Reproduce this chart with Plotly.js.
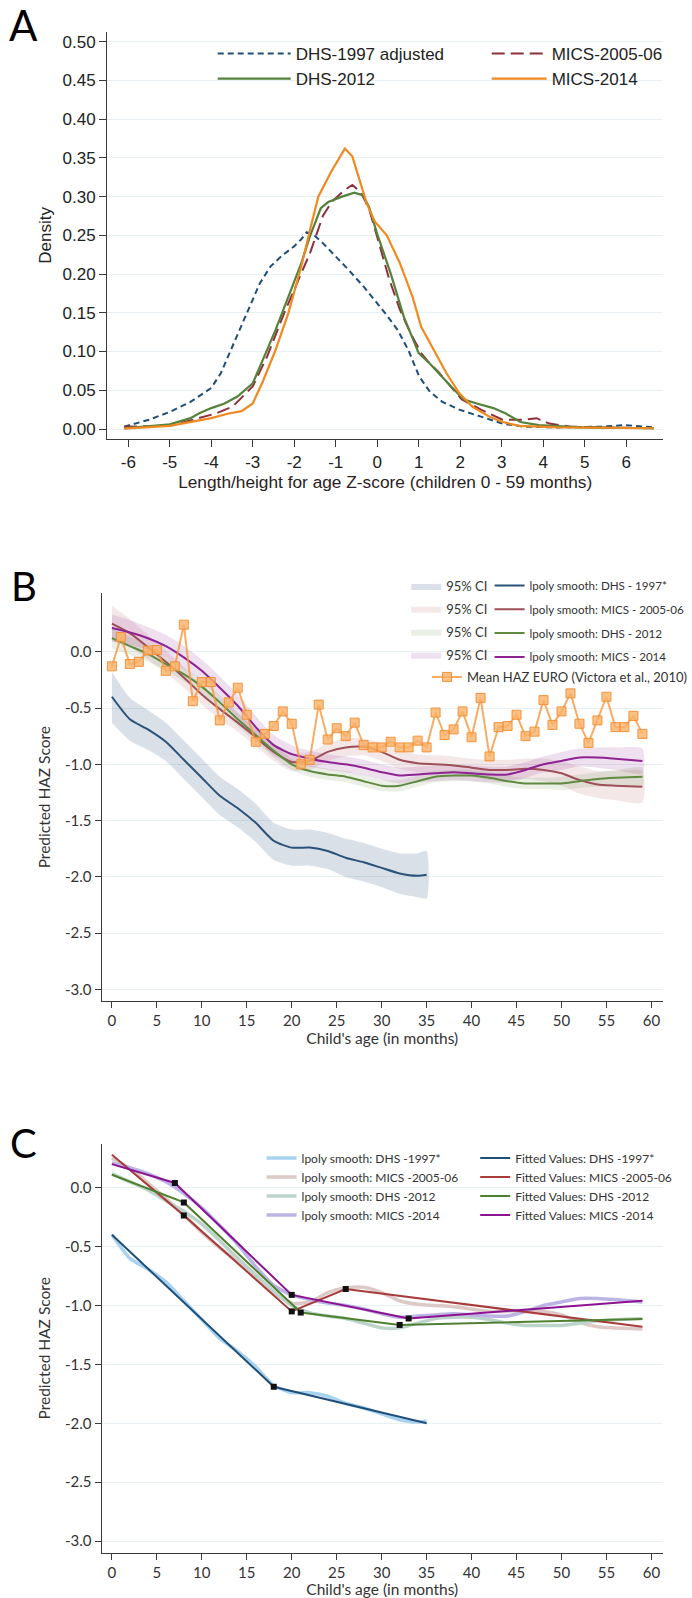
<!DOCTYPE html>
<html><head><meta charset="utf-8">
<script src="https://cdn.plot.ly/plotly-3.0.1.min.js"></script>
<style>html,body{margin:0;padding:0;background:#fff}#chart{width:692px;height:1598px}</style>
</head><body><div id="chart"></div>
<script>
// ---------- Panel A : kernel densities of HAZ ----------
const zDHS1997 = [-6.1,-5.5,-5.0,-4.5,-4.0,-3.77,-3.56,-3.35,-3.09,-2.83,-2.57,-2.31,-2.0,-1.83,-1.7,-1.52,-1.31,-1.0,-0.7,-0.33,0.0,0.23,0.49,0.75,1.01,1.27,1.57,1.98,2.5,3.02,3.53,4.35,5.38,6.0,6.67];
const dDHS1997 = [0.003,0.012,0.022,0.035,0.053,0.072,0.098,0.124,0.158,0.188,0.21,0.223,0.236,0.245,0.254,0.25,0.24,0.223,0.206,0.184,0.162,0.147,0.128,0.102,0.068,0.048,0.035,0.025,0.016,0.007,0.003,0.002,0.003,0.005,0.002];
const zMICS2005 = [-6.1,-5.0,-4.3,-3.89,-3.48,-3.0,-2.65,-2.24,-1.83,-1.62,-1.31,-1.1,-0.8,-0.6,-0.4,-0.2,0.0,0.28,0.54,0.8,1.06,1.26,1.47,1.78,2.04,2.5,3.02,3.53,3.84,4.15,4.66,5.38,6.67];
const dMICS2005 = [0.003,0.004,0.014,0.02,0.029,0.055,0.094,0.15,0.201,0.227,0.275,0.293,0.308,0.315,0.306,0.285,0.248,0.195,0.155,0.124,0.098,0.085,0.074,0.055,0.038,0.025,0.012,0.012,0.014,0.007,0.003,0.002,0.001];
const zDHS2012 = [-6.1,-5.0,-4.5,-4.3,-4.0,-3.68,-3.37,-3.0,-2.76,-2.45,-2.14,-1.83,-1.62,-1.36,-1.18,-0.85,-0.55,-0.35,-0.2,0.0,0.33,0.64,1.0,1.26,1.78,2.09,2.4,2.8,3.1,3.45,3.9,4.87,6.67];
const dDHS2012 = [0.001,0.006,0.014,0.02,0.027,0.033,0.042,0.059,0.089,0.128,0.171,0.214,0.249,0.285,0.293,0.30,0.305,0.302,0.287,0.252,0.2,0.145,0.098,0.085,0.055,0.038,0.033,0.027,0.02,0.009,0.005,0.002,0.001];
const zMICS2014 = [-6.1,-5.0,-4.0,-3.58,-3.27,-3.0,-2.76,-2.45,-2.14,-1.83,-1.62,-1.42,-1.1,-0.78,-0.6,-0.43,-0.25,-0.06,0.23,0.54,0.85,1.06,1.36,1.67,1.98,2.29,2.7,3.02,3.43,4.35,6.67];
const dMICS2014 = [0.0005,0.004,0.014,0.02,0.023,0.033,0.061,0.102,0.15,0.21,0.257,0.3,0.333,0.362,0.352,0.322,0.291,0.268,0.25,0.215,0.171,0.132,0.102,0.072,0.046,0.029,0.016,0.009,0.004,0.002,0.001];
const xTickValsA = [-6,-5,-4,-3,-2,-1,0,1,2,3,4,5,6];
const xTickTextA = ['-6','-5','-4','-3','-2','-1','0','1','2','3','4','5','6'];
const yTickValsA = [0,0.05,0.10,0.15,0.20,0.25,0.30,0.35,0.40,0.45,0.50];
const yTickTextA = ['0.00','0.05','0.10','0.15','0.20','0.25','0.30','0.35','0.40','0.45','0.50'];

// ---------- Panel B / C : lpoly smooths (age in months) ----------
const monthsFull = [0,2,4,6,8,10,12,14,16,18,20,22,24,26,28,30,32,34,36,38,40,42,44,46,48,50,52,54,56,59];
const months1997 = [0,2,4,6,8,10,12,14,16,18,20,22,24,26,28,30,32,34,35];
const haz1997 = [-0.40,-0.60,-0.69,-0.80,-0.96,-1.12,-1.28,-1.39,-1.52,-1.68,-1.74,-1.74,-1.77,-1.83,-1.87,-1.92,-1.97,-1.99,-1.98];
const hi1997  = [-0.18,-0.41,-0.52,-0.63,-0.79,-0.95,-1.11,-1.22,-1.35,-1.52,-1.58,-1.58,-1.61,-1.66,-1.70,-1.75,-1.79,-1.79,-1.77];
const lo1997  = [-0.63,-0.79,-0.87,-0.97,-1.13,-1.29,-1.45,-1.56,-1.69,-1.85,-1.90,-1.90,-1.93,-2.0,-2.04,-2.09,-2.15,-2.18,-2.19];
const haz2005 = [0.25,0.165,0.04,-0.09,-0.23,-0.38,-0.51,-0.63,-0.76,-0.89,-0.98,-0.97,-0.89,-0.85,-0.845,-0.89,-0.96,-0.99,-1.0,-1.01,-1.03,-1.05,-1.05,-1.04,-1.05,-1.08,-1.14,-1.18,-1.19,-1.2];
const hi2005  = [0.41,0.29,0.15,0.01,-0.14,-0.29,-0.42,-0.55,-0.68,-0.81,-0.9,-0.89,-0.81,-0.77,-0.77,-0.81,-0.88,-0.91,-0.92,-0.93,-0.95,-0.96,-0.96,-0.95,-0.95,-0.97,-1.02,-1.06,-1.06,-1.06];
const lo2005  = [0.09,0.04,-0.07,-0.19,-0.32,-0.47,-0.6,-0.71,-0.84,-0.97,-1.06,-1.05,-0.97,-0.93,-0.92,-0.97,-1.04,-1.07,-1.08,-1.09,-1.11,-1.14,-1.14,-1.13,-1.15,-1.19,-1.26,-1.3,-1.32,-1.34];
const haz2012 = [0.12,0.05,-0.02,-0.11,-0.2,-0.31,-0.45,-0.6,-0.74,-0.88,-1.0,-1.06,-1.09,-1.11,-1.15,-1.19,-1.19,-1.15,-1.11,-1.1,-1.1,-1.12,-1.15,-1.17,-1.17,-1.17,-1.15,-1.13,-1.12,-1.11];
const hi2012  = [0.21,0.13,0.05,-0.05,-0.14,-0.25,-0.39,-0.54,-0.68,-0.82,-0.95,-1.01,-1.04,-1.06,-1.1,-1.14,-1.14,-1.1,-1.06,-1.05,-1.05,-1.07,-1.1,-1.12,-1.12,-1.11,-1.09,-1.07,-1.05,-1.03];
const lo2012  = [0.03,-0.03,-0.09,-0.17,-0.26,-0.37,-0.51,-0.66,-0.8,-0.94,-1.05,-1.11,-1.14,-1.16,-1.2,-1.24,-1.24,-1.2,-1.16,-1.15,-1.15,-1.17,-1.2,-1.22,-1.22,-1.23,-1.21,-1.2,-1.19,-1.19];
const haz2014 = [0.21,0.17,0.12,0.05,-0.05,-0.17,-0.32,-0.48,-0.67,-0.83,-0.91,-0.95,-0.98,-1.0,-1.03,-1.07,-1.1,-1.09,-1.08,-1.07,-1.08,-1.09,-1.09,-1.05,-1.0,-0.97,-0.94,-0.94,-0.95,-0.97];
const hi2014  = [0.33,0.28,0.22,0.15,0.05,-0.07,-0.22,-0.38,-0.57,-0.74,-0.83,-0.88,-0.91,-0.93,-0.96,-1.0,-1.03,-1.02,-1.01,-1.0,-1.01,-1.02,-1.02,-0.98,-0.93,-0.89,-0.86,-0.85,-0.85,-0.86];
const lo2014  = [0.09,0.06,0.02,-0.05,-0.15,-0.27,-0.42,-0.58,-0.77,-0.92,-0.99,-1.02,-1.05,-1.07,-1.1,-1.14,-1.17,-1.16,-1.15,-1.14,-1.15,-1.16,-1.16,-1.12,-1.07,-1.05,-1.02,-1.03,-1.05,-1.08];
const euroMonths = [0,1,2,3,4,5,6,7,8,9,10,11,12,13,14,15,16,17,18,19,20,21,22,23,24,25,26,27,28,29,30,31,32,33,34,35,36,37,38,39,40,41,42,43,44,45,46,47,48,49,50,51,52,53,54,55,56,57,58,59];
const euroHAZ = [-0.13,0.13,-0.11,-0.09,0.01,0.015,-0.17,-0.13,0.24,-0.44,
  -0.27,-0.27,-0.61,-0.45,-0.32,-0.56,-0.80,-0.73,-0.66,-0.53,
  -0.64,-1.0,-0.96,-0.47,-0.78,-0.68,-0.75,-0.63,-0.83,-0.85,
  -0.85,-0.80,-0.85,-0.85,-0.79,-0.85,-0.54,-0.74,-0.69,-0.53,
  -0.76,-0.41,-0.93,-0.67,-0.66,-0.56,-0.75,-0.71,-0.43,-0.65,
  -0.53,-0.37,-0.64,-0.81,-0.61,-0.40,-0.67,-0.67,-0.57,-0.73];
// Panel C : piecewise fitted values (first/last = ends, inner = knots)
const fitM1997 = [0,18,35],        fitV1997 = [-0.40,-1.69,-2.0];
const fitM2005 = [0,8,20,26,59],   fitV2005 = [0.28,-0.235,-1.05,-0.86,-1.18];
const fitM2012 = [0,8,21,32,59],   fitV2012 = [0.11,-0.125,-1.06,-1.165,-1.115];
const fitM2014 = [0,7,20,33,59],   fitV2014 = [0.20,0.04,-0.91,-1.11,-0.96];
const ageTickVals = [0,5,10,15,20,25,30,35,40,45,50,55,60];
const ageTickText = ['0','5','10','15','20','25','30','35','40','45','50','55','60'];
const hazTickVals = [0,-0.5,-1,-1.5,-2,-2.5,-3];
const hazTickText = ['0.0','-0.5','-1.0','-1.5','-2.0','-2.5','-3.0'];

// ---------- layout helpers ----------
const W = 692, H = 1598;
const px = v => v / W;
const py = v => 1 - v / H;
const FA = 'Liberation Sans, Arial, sans-serif';
const FB = 'Lato, Open Sans, sans-serif';
const GRID = '#e7f0f3';
const AX = '#3a3a3a';

function band(m, hi, lo, color, xa, ya, grp) {
  return {x: m.concat(m.slice().reverse()), y: hi.concat(lo.slice().reverse()),
    type: 'scatter', mode: 'lines', fill: 'toself', fillcolor: color,
    line: {width: 0, shape: 'spline', smoothing: 0.6}, name: '95% CI',
    xaxis: xa, yaxis: ya, legend: 'legend3', legendgroup: grp, hoverinfo: 'skip'};
}
function line(x, y, name, color, width, xa, ya, leg, extra) {
  return Object.assign({x: x, y: y, type: 'scatter', mode: 'lines', name: name,
    line: {color: color, width: width}, xaxis: xa, yaxis: ya, legend: leg}, extra || {});
}
function knots(m, v, xa, ya) {
  return {x: m.slice(1, -1), y: v.slice(1, -1), type: 'scatter', mode: 'markers',
    marker: {symbol: 'square', size: 6, color: '#111'}, showlegend: false, xaxis: xa, yaxis: ya};
}
const SP = {shape: 'spline', smoothing: 0.6};

const traces = [
  // Panel A
  line(zDHS1997, dDHS1997, 'DHS-1997 adjusted', '#1f4e79', 2, 'x', 'y', 'legend', {line: {color: '#1f4e79', width: 2, dash: '6px,4px'}}),
  line(zMICS2005, dMICS2005, 'MICS-2005-06', '#8e2f3c', 2, 'x', 'y', 'legend2', {line: {color: '#8e2f3c', width: 2, dash: '13px,6px'}}),
  line(zDHS2012, dDHS2012, 'DHS-2012', '#55823a', 2.2, 'x', 'y', 'legend'),
  line(zMICS2014, dMICS2014, 'MICS-2014', '#f0891f', 2.2, 'x', 'y', 'legend2'),
  // Panel B bands
  band(months1997, hi1997, lo1997, 'rgba(44,82,120,0.18)', 'x2', 'y2', 'b1'),
  band(monthsFull, hi2005, lo2005, 'rgba(175,85,95,0.14)', 'x2', 'y2', 'b2'),
  band(monthsFull, hi2012, lo2012, 'rgba(95,140,60,0.13)', 'x2', 'y2', 'b3'),
  band(monthsFull, hi2014, lo2014, 'rgba(150,50,150,0.15)', 'x2', 'y2', 'b4'),
  // Panel B lines
  line(months1997, haz1997, 'lpoly smooth: DHS - 1997*', '#2b5278', 2, 'x2', 'y2', 'legend4', {line: Object.assign({color: '#2b5278', width: 2}, SP), legendgroup: 'l1'}),
  line(monthsFull, haz2005, 'lpoly smooth: MICS - 2005-06', '#9e4f58', 2, 'x2', 'y2', 'legend4', {line: Object.assign({color: '#9e4f58', width: 2}, SP), legendgroup: 'l2'}),
  line(monthsFull, haz2012, 'lpoly smooth: DHS - 2012', '#5f8a40', 2, 'x2', 'y2', 'legend4', {line: Object.assign({color: '#5f8a40', width: 2}, SP), legendgroup: 'l3'}),
  line(monthsFull, haz2014, 'lpoly smooth: MICS - 2014', '#8e2392', 2, 'x2', 'y2', 'legend4', {line: Object.assign({color: '#8e2392', width: 2}, SP), legendgroup: 'l4'}),
  {x: euroMonths, y: euroHAZ, type: 'scatter', mode: 'lines+markers', name: 'Mean HAZ EURO (Victora et al., 2010)',
   line: {color: 'rgba(247,150,60,0.8)', width: 2},
   marker: {symbol: 'square', size: 9, color: 'rgba(250,178,105,0.8)', line: {color: 'rgba(244,140,45,0.9)', width: 1}},
   xaxis: 'x2', yaxis: 'y2', legend: 'legend5'},
  // Panel C light lpoly
  line(months1997, haz1997, 'lpoly smooth: DHS -1997*', '#a8d3f0', 3.5, 'x3', 'y3', 'legend6', {line: Object.assign({color: '#a8d3f0', width: 3.5}, SP)}),
  line(monthsFull, haz2005, 'lpoly smooth: MICS -2005-06', '#ddc9c6', 3.5, 'x3', 'y3', 'legend6', {line: Object.assign({color: '#ddc9c6', width: 3.5}, SP)}),
  line(monthsFull, haz2012, 'lpoly smooth: DHS -2012', '#bdd4cb', 3.5, 'x3', 'y3', 'legend6', {line: Object.assign({color: '#bdd4cb', width: 3.5}, SP)}),
  line(monthsFull, haz2014, 'lpoly smooth: MICS -2014', '#bcb4e4', 3.5, 'x3', 'y3', 'legend6', {line: Object.assign({color: '#bcb4e4', width: 3.5}, SP)}),
  // Panel C fitted
  line(fitM1997, fitV1997, 'Fitted Values: DHS -1997*', '#1f4e79', 2, 'x3', 'y3', 'legend7'),
  line(fitM2005, fitV2005, 'Fitted Values: MICS -2005-06', '#a83b3b', 2, 'x3', 'y3', 'legend7'),
  line(fitM2012, fitV2012, 'Fitted Values: DHS -2012', '#4f8030', 2, 'x3', 'y3', 'legend7'),
  line(fitM2014, fitV2014, 'Fitted Values: MICS -2014', '#8c1390', 2, 'x3', 'y3', 'legend7'),
  knots(fitM1997, fitV1997, 'x3', 'y3'),
  knots(fitM2005, fitV2005, 'x3', 'y3'),
  knots(fitM2012, fitV2012, 'x3', 'y3'),
  knots(fitM2014, fitV2014, 'x3', 'y3')
];

function xAxisAge(yref) {
  return {domain: [px(106), 1], range: [(106 - 116.8) / 9.385, (692 - 116.8) / 9.385], anchor: yref,
    tickvals: ageTickVals, ticktext: ageTickText, ticks: 'outside', ticklen: 6, tickcolor: AX,
    showline: true, linecolor: AX, linewidth: 1, showgrid: false, zeroline: false,
    tickfont: {family: FB, size: 15, color: '#333'},
    title: {text: "Child's age (in months)", font: {family: FB, size: 15.5, color: '#333'}, standoff: 0}};
}
function yAxisHAZ(xref, dom, rng) {
  return {domain: dom, range: rng, anchor: xref, tickvals: hazTickVals, ticktext: hazTickText,
    ticks: 'outside', ticklen: 6, tickcolor: AX, showline: true, linecolor: AX, linewidth: 1,
    showgrid: true, gridcolor: GRID, gridwidth: 1, zeroline: false,
    tickfont: {family: FB, size: 15, color: '#333'},
    title: {text: 'Predicted HAZ Score', font: {family: FB, size: 15.5, color: '#333'}, standoff: 10}};
}
function leg(x, ytop, size, extra) {
  return Object.assign({x: px(x), y: py(ytop), xanchor: 'left', yanchor: 'top', bgcolor: 'rgba(0,0,0,0)',
    borderwidth: 0, font: {family: FB, size: size, color: '#333'}, tracegroupgap: 0}, extra || {});
}

const A0 = 393.7, AU = 43.3;   // pixel of z=0 and pixels per unit in panel A
const layout = {
  width: W, height: H, margin: {l: 0, r: 0, t: 0, b: 0},
  paper_bgcolor: '#fff', plot_bgcolor: '#fff', showlegend: true, hovermode: false,
  xaxis: {domain: [px(112), 1], range: [(112 - A0) / AU, (692 - A0) / AU], anchor: 'y',
    tickvals: xTickValsA, ticktext: xTickTextA, ticks: 'outside', ticklen: 7, tickcolor: AX,
    showline: true, linecolor: AX, linewidth: 1.3, showgrid: false, zeroline: false,
    tickfont: {family: FA, size: 17, color: '#222'},
    title: {text: 'Length/height for age Z-score (children 0 - 59 months)', font: {family: FA, size: 17.3, color: '#2a2222'}, standoff: 2}},
  yaxis: {domain: [py(439), py(31.7)], range: [(429 - 439) / 774.6, (429 - 31.7) / 774.6], anchor: 'x',
    tickvals: yTickValsA, ticktext: yTickTextA, ticks: 'outside', ticklen: 7, tickcolor: AX,
    showline: true, linecolor: AX, linewidth: 1.3, showgrid: true, gridcolor: GRID, zeroline: false,
    tickfont: {family: FA, size: 17, color: '#222'},
    title: {text: 'Density', font: {family: FA, size: 17, color: '#222'}, standoff: 6}},
  xaxis2: xAxisAge('y2'),
  yaxis2: yAxisHAZ('x2', [py(1001.3), py(593)], [(651.7 - 1001.3) / 112.6, (651.7 - 593) / 112.6]),
  xaxis3: xAxisAge('y3'),
  yaxis3: yAxisHAZ('x3', [py(1552.7), py(1144)], [(1187.7 - 1552.7) / 117.8, (1187.7 - 1144) / 117.8]),
  legend:  leg(222, 36, 17, {font: {family: FA, size: 17, color: '#222'}, itemwidth: 73}),
  legend2: leg(508, 36, 17, {font: {family: FA, size: 17, color: '#222'}, itemwidth: 55}),
  legend3: leg(424, 571, 13, {traceorder: 'grouped', tracegroupgap: 3}),
  legend4: leg(511, 571, 11.6, {traceorder: 'grouped', tracegroupgap: 4.8}),
  legend5: leg(446, 662, 13),
  legend6: leg(273, 1143.5, 12),
  legend7: leg(496, 1143.5, 12),
  shapes: [
    {type: 'rect', xref: 'paper', yref: 'paper', x0: px(218), x1: px(687), y0: py(95), y1: py(33), fillcolor: '#fff', line: {width: 0}, layer: 'between'},
    {type: 'rect', xref: 'paper', yref: 'paper', x0: px(255), x1: px(692), y0: py(688), y1: py(572), fillcolor: '#fff', line: {width: 0}, layer: 'between'},
    {type: 'rect', xref: 'paper', yref: 'paper', x0: px(265), x1: px(692), y0: py(1230), y1: py(1145), fillcolor: '#fff', line: {width: 0}, layer: 'between'}
  ],
  annotations: [
    {text: 'A', xref: 'paper', yref: 'paper', x: px(25), y: py(25), xanchor: 'center', yanchor: 'middle', showarrow: false, font: {family: FB, size: 42, color: '#000'}},
    {text: 'B', xref: 'paper', yref: 'paper', x: px(25), y: py(586), xanchor: 'center', yanchor: 'middle', showarrow: false, font: {family: FB, size: 40, color: '#000'}},
    {text: 'C', xref: 'paper', yref: 'paper', x: px(25), y: py(1143), xanchor: 'center', yanchor: 'middle', showarrow: false, font: {family: FB, size: 40, color: '#000'}}
  ]
};

Plotly.newPlot('chart', traces, layout, {displayModeBar: false, staticPlot: true});
</script></body></html>
